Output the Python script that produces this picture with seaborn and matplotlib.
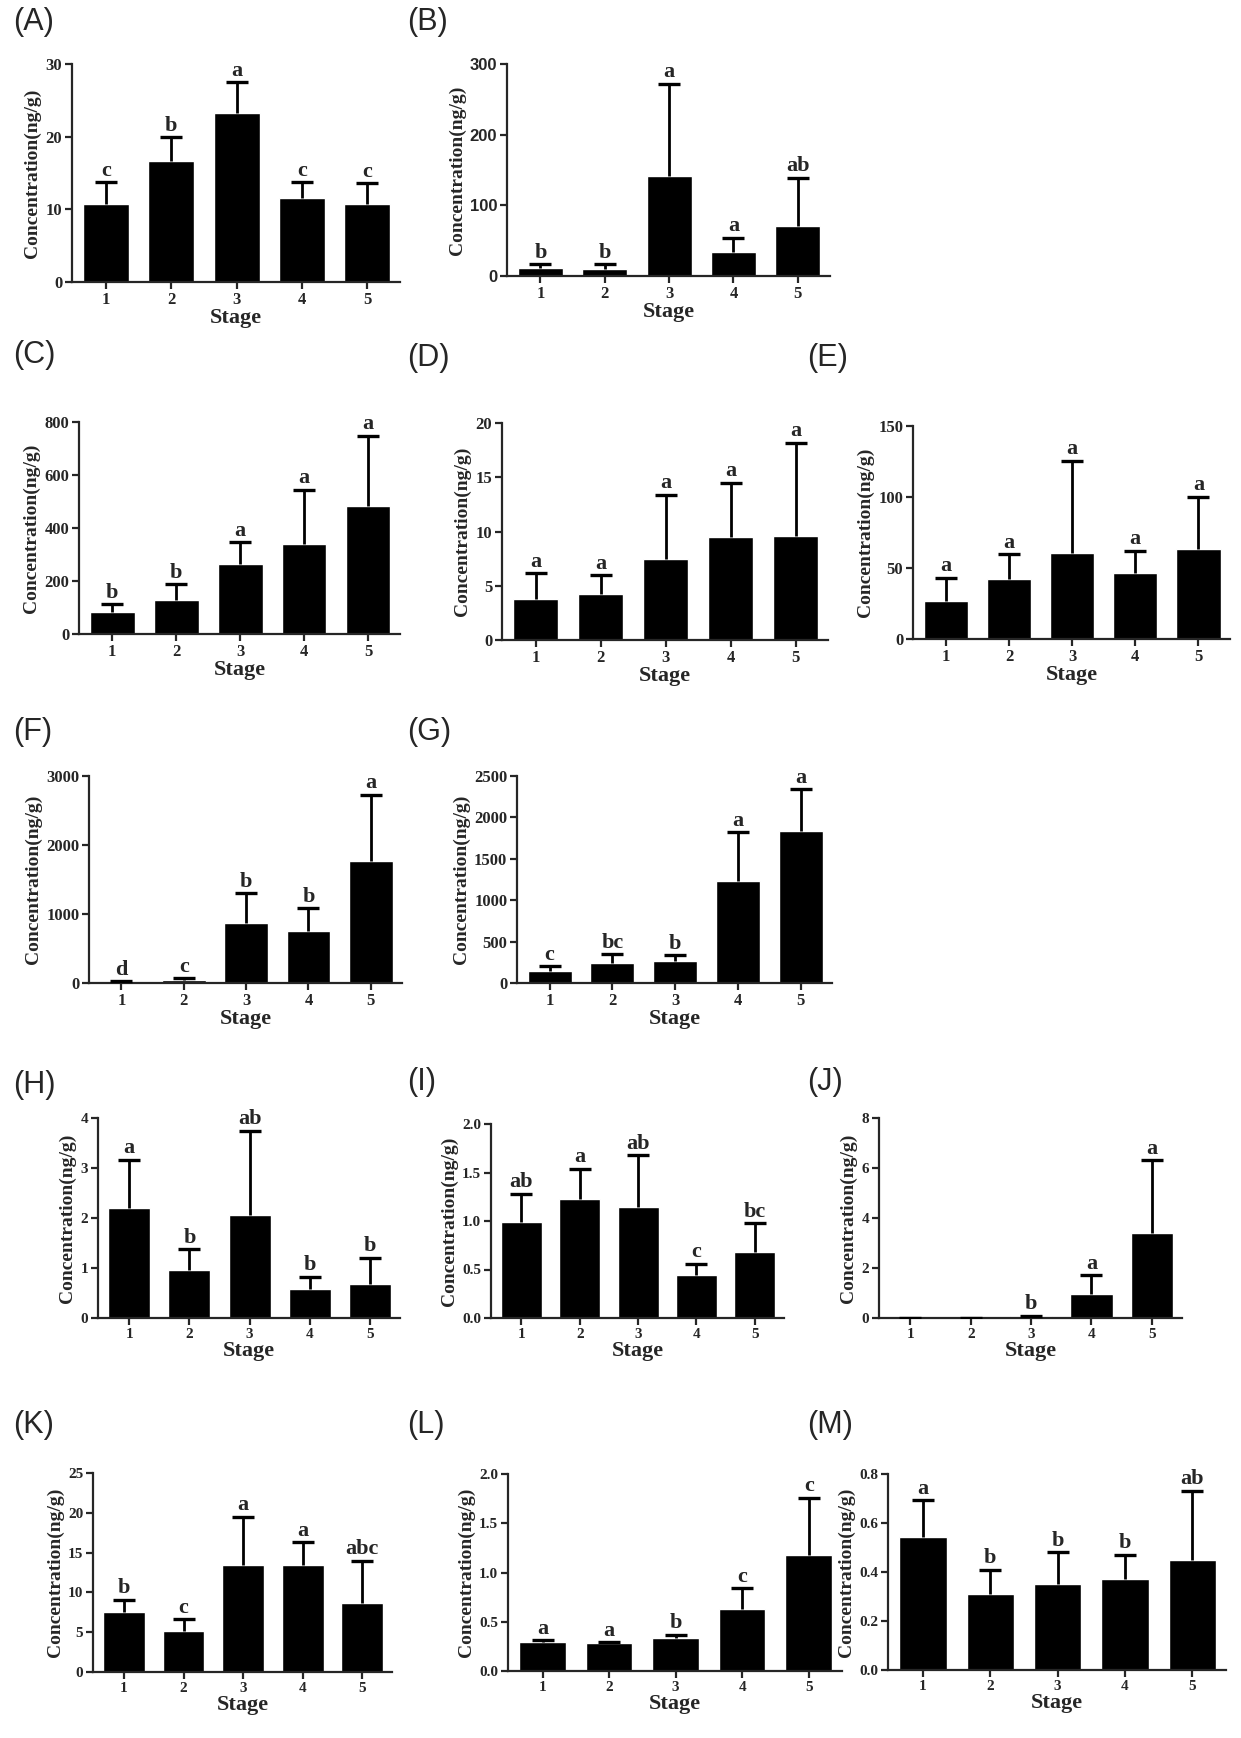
import numpy as np
import pandas as pd
import matplotlib.pyplot as plt
import seaborn as sns

# ---- data (mean, SD, significance letters) ----
stages = ['1', '2', '3', '4', '5']

mean_A = [10.7, 16.6, 23.3, 11.6, 10.7]
sd_A = [3.0, 3.3, 4.2, 2.1, 2.9]
sig_A = ['c', 'b', 'a', 'c', 'c']

mean_B = [12, 10, 142, 34, 71]
sd_B = [5, 7, 130, 20, 68]
sig_B = ['b', 'b', 'a', 'a', 'ab']

mean_C = [82, 128, 263, 338, 483]
sd_C = [31, 60, 83, 207, 266]
sig_C = ['b', 'b', 'a', 'a', 'a']

mean_D = [3.8, 4.2, 7.5, 9.5, 9.6]
sd_D = [2.35, 1.8, 5.9, 5.0, 8.6]
sig_D = ['a', 'a', 'a', 'a', 'a']

mean_E = [26.8, 42.3, 60.8, 46.7, 63.2]
sd_E = [16.4, 17.6, 64.8, 15.5, 37.0]
sig_E = ['a', 'a', 'a', 'a', 'a']

mean_F = [20, 45, 865, 754, 1768]
sd_F = [8, 25, 435, 329, 961]
sig_F = ['d', 'c', 'b', 'b', 'a']

mean_G = [145, 238, 262, 1232, 1840]
sd_G = [60, 109, 76, 588, 499]
sig_G = ['c', 'bc', 'b', 'a', 'a']

mean_H = [2.21, 0.96, 2.06, 0.59, 0.69]
sd_H = [0.96, 0.42, 1.69, 0.24, 0.52]
sig_H = ['a', 'b', 'ab', 'b', 'b']

mean_I = [0.99, 1.23, 1.14, 0.44, 0.68]
sd_I = [0.29, 0.31, 0.54, 0.12, 0.30]
sig_I = ['ab', 'a', 'ab', 'c', 'bc']

mean_J = [0, 0, 0.07, 0.95, 3.41]
sd_J = [0, 0, 0.03, 0.76, 2.91]
sig_J = ['', '', 'b', 'a', 'a']

mean_K = [7.6, 5.1, 13.4, 13.4, 8.7]
sd_K = [1.5, 1.5, 6.1, 2.9, 5.3]
sig_K = ['b', 'c', 'a', 'a', 'abc']

mean_L = [0.29, 0.28, 0.33, 0.63, 1.18]
sd_L = [0.02, 0.01, 0.04, 0.21, 0.58]
sig_L = ['a', 'a', 'b', 'c', 'c']

mean_M = [0.544, 0.311, 0.352, 0.371, 0.451]
sd_M = [0.148, 0.099, 0.129, 0.099, 0.281]
sig_M = ['a', 'b', 'b', 'b', 'ab']

# y axis: (max, step, decimals)
yaxis_spec = {
    'A': (30, 10, 0), 'B': (300, 100, 0), 'C': (800, 200, 0),
    'D': (20, 5, 0), 'E': (150, 50, 0), 'F': (3000, 1000, 0),
    'G': (2500, 500, 0), 'H': (4, 1, 0), 'I': (2.0, 0.5, 1),
    'J': (8, 2, 0), 'K': (25, 5, 0), 'L': (2.0, 0.5, 1), 'M': (0.8, 0.2, 1),
}

panels = {
    'A': (mean_A, sd_A, sig_A), 'B': (mean_B, sd_B, sig_B),
    'C': (mean_C, sd_C, sig_C), 'D': (mean_D, sd_D, sig_D),
    'E': (mean_E, sd_E, sig_E), 'F': (mean_F, sd_F, sig_F),
    'G': (mean_G, sd_G, sig_G), 'H': (mean_H, sd_H, sig_H),
    'I': (mean_I, sd_I, sig_I), 'J': (mean_J, sd_J, sig_J),
    'K': (mean_K, sd_K, sig_K), 'L': (mean_L, sd_L, sig_L),
    'M': (mean_M, sd_M, sig_M),
}

# ---- layout in pixels of the 1241x1738 canvas: left, right, top, bottom ----
W, H = 1241, 1738
boxes = {
    'A': (72, 400, 64, 282), 'B': (507, 830, 64, 276),
    'C': (79, 400, 422, 634), 'D': (502, 828, 423, 640), 'E': (913, 1230, 426, 639),
    'F': (89, 402, 776, 983), 'G': (517, 832, 776, 983),
    'H': (98, 400, 1118, 1318), 'I': (491, 784, 1124, 1318), 'J': (879, 1182, 1118, 1318),
    'K': (93, 392, 1473, 1672), 'L': (508, 842, 1474, 1671), 'M': (888, 1226, 1474, 1670),
}
label_pos = {
    'A': (13, 22), 'B': (407, 22),
    'C': (13, 355), 'D': (407, 358), 'E': (807, 358),
    'F': (13, 732), 'G': (407, 732),
    'H': (13, 1085), 'I': (407, 1082), 'J': (807, 1082),
    'K': (13, 1425), 'L': (407, 1425), 'M': (807, 1425),
}

SERIF = ['Liberation Serif', 'DejaVu Serif']
SANS = ['Liberation Sans', 'DejaVu Sans']


def draw_panel(fig, key):
    means, sds, sigs = panels[key]
    l, r, t, b = boxes[key]
    ax = fig.add_axes([l / W, 1 - b / H, (r - l) / W, (b - t) / H])

    df = pd.DataFrame({'Stage': stages, 'Concentration': means})
    sns.barplot(data=df, x='Stage', y='Concentration', color='black',
                saturation=1, width=0.7, errorbar=None, ax=ax)
    x = np.arange(len(stages))
    _, caps, _ = ax.errorbar(x, means, yerr=[np.zeros(len(sds)), sds], fmt='none',
                             ecolor='black', elinewidth=2.0, capsize=8,
                             capthick=2.4, zorder=3)
    # only the upper cap, as in a one-sided (upper) SD bar
    caps[0].set_visible(False)
    for xi, m, s, lab in zip(x, means, sds, sigs):
        if lab:
            ax.annotate(lab, (xi, m + s), xytext=(0, 1), textcoords='offset points',
                        ha='center', va='bottom', fontsize=16, fontweight='bold',
                        family=SERIF)

    ymax, step, dec = yaxis_spec[key]
    ax.set_ylim(0, ymax)
    ax.set_xlim(-0.52, 4.5)
    ticks = np.arange(0, ymax + step / 2, step)
    ax.set_yticks(ticks)
    ax.set_yticklabels([f'{v:.{dec}f}' for v in ticks])

    for side in ['top', 'right']:
        ax.spines[side].set_visible(False)
    for side in ['left', 'bottom']:
        ax.spines[side].set_linewidth(1.6)
    ax.tick_params(axis='both', direction='out', length=5, width=1.6, pad=2)
    tick_size = 12 if key in 'ABCDEFG' else 11
    ytick_family = SANS if key == 'B' else SERIF
    for lbl in ax.get_yticklabels():
        lbl.set_family(ytick_family)
        lbl.set_fontweight('bold')
        lbl.set_fontsize(tick_size)
    for lbl in ax.get_xticklabels():
        lbl.set_family(SERIF)
        lbl.set_fontweight('bold')
        lbl.set_fontsize(tick_size)

    ax.set_xlabel('Stage', fontsize=16, fontweight='bold', family=SERIF, labelpad=0)
    ax.set_ylabel('Concentration(ng/g)', fontsize=14, fontweight='bold',
                  family=SERIF, labelpad=3)
    ax.set_facecolor('none')

    lx, ly = label_pos[key]
    fig.text(lx / W, 1 - ly / H, f'({key})', fontsize=22, family=SANS,
             ha='left', va='center')


def main():
    sns.set_style('ticks')
    plt.rcParams['font.family'] = SERIF
    fig = plt.figure(figsize=(W / 100, H / 100), dpi=100)
    fig.patch.set_facecolor('white')
    for key in panels:
        draw_panel(fig, key)
    fig.savefig('out.png', dpi=100, facecolor='white')
    plt.close(fig)


if __name__ == '__main__':
    main()
